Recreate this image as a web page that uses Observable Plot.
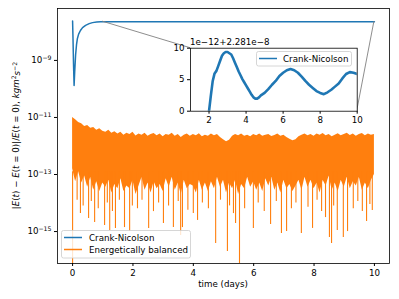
<!DOCTYPE html>
<html><head><meta charset="utf-8">
<script src="https://cdn.jsdelivr.net/npm/d3@7"></script>
<script src="https://cdn.jsdelivr.net/npm/@observablehq/plot@0.6"></script>
<style>
body{margin:0;background:#fff;}
#wrap{position:relative;width:399px;height:299px;font-family:"DejaVu Sans",sans-serif;}
#wrap svg{position:absolute;overflow:visible;}
</style></head><body><div id="wrap"></div>
<script>
// ---------- data ----------
const xTicks = [0, 2, 4, 6, 8, 10];
const yTickExp = [-9, -11, -13, -15];
const insetXTicks = [2, 4, 6, 8, 10];
const insetYTicks = [0, 5, 10];
const seriesNames = ["Crank-Nicolson", "Energetically balanced"];
const offsetText = "1e\u221212+2.281e\u22128";
const insetBase = 2.281e-8, insetUnit = 1e-12;

// Crank-Nicolson (main axes), log10 of relative error
const cnT   = [0, 0.015, 0.03, 0.05, 0.07, 0.1, 0.13, 0.16, 0.2, 0.26, 0.33, 0.43, 0.55, 0.66, 0.8, 0.93, 1.1, 1.5, 3, 10];
const cnLog = [-7.62, -8.3, -9.1, -9.88, -9.4, -8.8, -8.45, -8.23, -8.08, -7.95, -7.85, -7.77, -7.71, -7.675, -7.655, -7.646, -7.643, -7.642, -7.642, -7.642];

// Energetically balanced: dense band (upper / lower edge, log10)
const ebT = [0,0.1,0.2,0.3,0.4,0.5,0.6,0.7,0.8,0.9,1,1.1,1.2,1.3,1.4,1.5,1.6,1.7,1.8,1.9,2,2.1,2.2,2.3,2.4,2.5,2.6,2.7,2.8,2.9,3,3.1,3.2,3.3,3.4,3.5,3.6,3.7,3.8,3.9,4,4.1,4.2,4.3,4.4,4.5,4.6,4.7,4.8,4.9,5,5.1,5.2,5.3,5.4,5.5,5.6,5.7,5.8,5.9,6,6.1,6.2,6.3,6.4,6.5,6.6,6.7,6.8,6.9,7,7.1,7.2,7.3,7.4,7.5,7.6,7.7,7.8,7.9,8,8.1,8.2,8.3,8.4,8.5,8.6,8.7,8.8,8.9,9,9.1,9.2,9.3,9.4,9.5,9.6,9.7,9.8,9.9,10];
const ebHi = [-11.00,-11.08,-11.18,-11.22,-11.32,-11.28,-11.38,-11.35,-11.45,-11.40,-11.48,-11.52,-11.45,-11.55,-11.50,-11.58,-11.52,-11.62,-11.55,-11.60,-11.52,-11.65,-11.58,-11.62,-11.55,-11.66,-11.60,-11.56,-11.64,-11.58,-11.68,-11.60,-11.62,-11.55,-11.66,-11.60,-11.70,-11.62,-11.58,-11.66,-11.60,-11.64,-11.57,-11.68,-11.62,-11.66,-11.58,-11.64,-11.60,-11.70,-11.78,-11.85,-11.80,-11.66,-11.60,-11.64,-11.58,-11.66,-11.62,-11.68,-11.60,-11.64,-11.58,-11.66,-11.62,-11.60,-11.67,-11.63,-11.58,-11.66,-11.62,-11.70,-11.76,-11.82,-11.78,-11.68,-11.62,-11.58,-11.64,-11.60,-11.66,-11.58,-11.62,-11.56,-11.64,-11.60,-11.68,-11.62,-11.57,-11.64,-11.60,-11.55,-11.63,-11.58,-11.66,-11.60,-11.56,-11.64,-11.58,-11.62,-11.60];
const ebLo = [-12.8,-13.25,-12.9,-13.3,-13.05,-13.45,-13.1,-13.55,-13.25,-13.6,-13.3,-13.45,-13.2,-13.65,-13.35,-13.5,-13.15,-13.6,-13.4,-13.5,-13.2,-13.7,-13.4,-13.1,-13.55,-13.3,-13.65,-13.25,-13.5,-13.35,-13.6,-13.15,-13.45,-13.1,-13.55,-13.3,-13.7,-13.2,-13.5,-13.35,-13.4,-13.65,-13.2,-13.55,-13.3,-13.6,-13.25,-13.5,-13.1,-13.45,-13.2,-13.65,-13.3,-13.5,-13.2,-13.7,-13.35,-13.5,-13.1,-13.45,-13.25,-13.55,-13.3,-13.6,-13.15,-13.4,-13.1,-13.55,-13.3,-13.65,-13.2,-13.5,-13.35,-13.6,-13.4,-13.2,-13.55,-13.1,-13.45,-13.2,-13.5,-13.3,-13.65,-13.2,-13.4,-13.05,-13.55,-13.3,-13.6,-13.2,-13.45,-13.1,-13.5,-13.25,-13.4,-13.1,-13.55,-13.3,-13.5,-13.2,-13.0];

// Energetically balanced: deep downward spikes (time, log10 of minimum)
const spikeT   = [0, 0.15, 0.26, 0.35, 0.53, 0.62, 0.73, 0.85, 1.06, 1.15, 1.23, 1.32, 1.42, 1.55, 1.72, 1.89, 1.98, 2.15, 2.3, 2.52, 2.68, 2.85, 3.01, 3.18, 3.34, 3.5, 3.58, 3.64, 3.82, 4.0, 4.14, 4.3, 4.5, 4.74, 4.9, 5.13, 5.2, 5.33, 5.4, 5.53, 5.7, 5.99, 6.15, 6.35, 6.56, 6.75, 6.92, 7.09, 7.25, 7.4, 7.58, 7.8, 7.95, 8.1, 8.25, 8.38, 8.51, 8.58, 8.65, 8.77, 8.97, 9.11, 9.3, 9.45, 9.6, 9.74, 9.85, 9.93];
const spikeLog = [-16.3, -13.9, -14.37, -14.1, -14.54, -13.95, -14.68, -14.2, -14.79, -14.0, -14.96, -14.3, -14.89, -13.9, -14.86, -15.0, -14.1, -14.2, -13.9, -14.89, -14.3, -14.0, -14.72, -14.1, -14.86, -13.95, -15.14, -14.86, -14.25, -14.37, -14.61, -14.0, -14.2, -15.42, -13.9, -15.7, -14.1, -14.37, -14.72, -16.3, -14.2, -14.89, -14.0, -14.3, -14.75, -13.95, -15.07, -15.0, -14.2, -14.0, -15.07, -14.15, -14.89, -13.9, -14.3, -14.51, -15.21, -15.42, -14.1, -14.96, -15.21, -15.0, -14.2, -13.95, -14.3, -14.65, -14.05, -14.26];
const spikeTopLog = -12.9;

// Inset: Crank-Nicolson, in units of 1e-12 above 2.281e-8
const inT = [1.9, 2.0, 2.1, 2.2, 2.3, 2.4, 2.5, 2.6, 2.7, 2.8, 2.9, 3.0, 3.1, 3.2, 3.3, 3.4, 3.5, 3.6, 3.7, 3.8, 3.9, 4.0, 4.1, 4.2, 4.3, 4.4, 4.5, 4.6, 4.7, 4.8, 4.9, 5.0, 5.2, 5.4, 5.6, 5.8, 6.0, 6.2, 6.4, 6.6, 6.8, 7.0, 7.2, 7.4, 7.6, 7.8, 8.0, 8.2, 8.4, 8.6, 8.8, 9.0, 9.2, 9.4, 9.6, 9.8, 10.0];
const inV = [-3, 0, 2.5, 4.8, 6.0, 6.4, 7.2, 8.0, 8.8, 9.2, 9.4, 9.4, 9.2, 9.0, 8.4, 7.7, 7.0, 6.3, 5.7, 5.1, 4.6, 4.1, 3.6, 3.1, 2.6, 2.2, 2.0, 2.0, 2.2, 2.5, 2.7, 2.9, 3.5, 4.2, 4.8, 5.6, 6.1, 6.5, 6.7, 6.5, 6.1, 5.5, 4.8, 4.2, 3.7, 3.2, 2.9, 2.7, 3.0, 3.4, 3.9, 4.4, 5.2, 5.9, 6.2, 6.1, 5.9];

// ---------- build ----------
const BLUE = "#1f77b4", ORANGE = "#ff7f0e";
const FONT = "DejaVu Sans";
const cn = cnT.map((t, i) => ({t, v: 10 ** cnLog[i]}));
const band = ebT.map((t, i) => ({t, hi: 10 ** ebHi[i], lo: 10 ** ebLo[i]}));
const spikes = spikeT.map((t, i) => ({t, lo: 10 ** spikeLog[i], hi: 10 ** spikeTopLog}));
const inset = inT.map((t, i) => ({t, v: inV[i]}));

const main = Plot.plot({
  width: 399, height: 299,
  marginLeft: 57, marginRight: 10, marginTop: 8, marginBottom: 36,
  style: {fontFamily: FONT, fontSize: "8.7px", background: "white", color: "black", overflow: "visible"},
  x: {domain: [-0.5, 10.5], ticks: xTicks, tickSize: 3, tickPadding: 3, label: null, tickFormat: d => String(d)},
  y: {type: "log", domain: [10 ** -16.12, 10 ** -7.18], ticks: yTickExp.map(e => 10 ** e), tickSize: 3, tickPadding: 3, label: null,
      tickFormat: d => String(Math.round(Math.log10(d)))},
  marks: [
    Plot.areaY(band, {x: "t", y1: "lo", y2: "hi", fill: ORANGE, clip: true}),
    Plot.ruleX(spikes, {x: "t", y1: "lo", y2: "hi", stroke: ORANGE, strokeWidth: 1.1, clip: true}),
    Plot.line(cn, {x: "t", y: "v", stroke: BLUE, strokeWidth: 1.5, clip: true}),
    Plot.frame({stroke: "black", strokeWidth: 0.8})
  ]
});

const insetLeft = 150, insetTop = 30;
const insetPlot = Plot.plot({
  width: 215, height: 100,
  marginLeft: 40, marginRight: 8.3, marginTop: 17.7, marginBottom: 19.3,
  style: {fontFamily: FONT, fontSize: "8.7px", background: "transparent", color: "black", overflow: "visible"},
  x: {domain: [1, 10], ticks: insetXTicks, tickSize: 3, tickPadding: 3, label: null},
  y: {domain: [0, 10], ticks: insetYTicks, tickSize: 3, tickPadding: 3, label: null},
  marks: [
    Plot.frame({fill: "white"}),
    Plot.line(inset, {x: "t", y: "v", stroke: BLUE, strokeWidth: 2.6, clip: true}),
    Plot.frame({stroke: "black", strokeWidth: 0.8})
  ]
});

const wrap = document.getElementById("wrap");
main.style.left = "0px"; main.style.top = "0px";
insetPlot.style.left = insetLeft + "px"; insetPlot.style.top = insetTop + "px";
wrap.appendChild(main);
wrap.appendChild(insetPlot);

const NS = "http://www.w3.org/2000/svg";
function el(parent, name, attrs, text) {
  const e = document.createElementNS(NS, name);
  for (const k in attrs) e.setAttribute(k, attrs[k]);
  if (text != null) e.textContent = text;
  parent.appendChild(e);
  return e;
}
function scaleFn(plot, name) {
  const s = plot.scale(name);
  if (s.apply) return v => s.apply(v);
  const sc = (s.type === "log" ? d3.scaleLog() : d3.scaleLinear()).domain(s.domain).range(s.range);
  return sc;
}

// y tick labels as 10^n with superscript
main.querySelectorAll('g[aria-label="y-axis tick label"] text').forEach(t => {
  const n = t.textContent.replace("-", "\u2212");
  t.textContent = "";
  el(t, "tspan", {}, "10");
  el(t, "tspan", {dy: "-0.55em", "font-size": "6.2px"}, n);
});

// connectors (inset indicator lines), drawn on main axes beneath inset
const mx = scaleFn(main, "x"), my = scaleFn(main, "y");
const ix = scaleFn(insetPlot, "x"), iy = scaleFn(insetPlot, "y");
const gC = el(main, "g", {stroke: "#808080", "stroke-width": 0.9, fill: "none"});
el(gC, "line", {x1: mx(1), y1: my(insetBase), x2: insetLeft + ix(1), y2: insetTop + iy(10)});
el(gC, "line", {x1: mx(10), y1: my(insetBase), x2: insetLeft + ix(10), y2: insetTop + iy(0)});

// axis labels
el(main, "text", {x: 223, y: 287, "text-anchor": "middle", "font-size": "8.7px", fill: "black"}, "time (days)");
const yl = el(main, "text", {transform: "translate(19,135.5) rotate(-90)", "text-anchor": "middle", "font-size": "8.7px", fill: "black"});
const parts = [["|", 0], ["E", 1], ["(", 0], ["t", 1], [") \u2212 ", 0], ["E", 1], ["(", 0], ["t", 1], [" = 0)|/", 0], ["E", 1], ["(", 0], ["t", 1], [" = 0), ", 0], ["kgm", 1]];
parts.forEach(([s, it]) => el(yl, "tspan", it ? {"font-style": "italic"} : {}, s));
el(yl, "tspan", {dy: "-0.45em", "font-size": "6.2px"}, "2");
el(yl, "tspan", {dy: "0.45em", "font-style": "italic"}, "s");
el(yl, "tspan", {dy: "-0.45em", "font-size": "6.2px"}, "\u22122");

// main legend
const gL = el(main, "g", {"text-anchor": "start"});
el(gL, "rect", {x: 61.5, y: 230.5, width: 129, height: 27.5, rx: 2, fill: "white", "fill-opacity": 0.8, stroke: "#cccccc", "stroke-width": 0.8});
el(gL, "line", {x1: 64, x2: 82, y1: 237.5, y2: 237.5, stroke: BLUE, "stroke-width": 1.5});
el(gL, "line", {x1: 64, x2: 82, y1: 249.5, y2: 249.5, stroke: ORANGE, "stroke-width": 1.5});
el(gL, "text", {x: 89, y: 240.5, "font-size": "8.7px", fill: "black", "text-anchor": "start"}, seriesNames[0]);
el(gL, "text", {x: 89, y: 252.5, "font-size": "8.7px", fill: "black", "text-anchor": "start"}, seriesNames[1]);

// inset offset text and legend
el(insetPlot, "text", {x: 40, y: 15, "font-size": "8.7px", fill: "black", "text-anchor": "start"}, offsetText);
const gI = el(insetPlot, "g", {"text-anchor": "start"});
el(gI, "rect", {x: 106.5, y: 21.5, width: 95, height: 14.5, rx: 2, fill: "white", "fill-opacity": 0.8, stroke: "#cccccc", "stroke-width": 0.8});
el(gI, "line", {x1: 109, x2: 127, y1: 28.5, y2: 28.5, stroke: BLUE, "stroke-width": 1.5});
el(gI, "text", {x: 133, y: 31.5, "font-size": "8.7px", fill: "black", "text-anchor": "start"}, seriesNames[0]);
</script>
</body></html>
